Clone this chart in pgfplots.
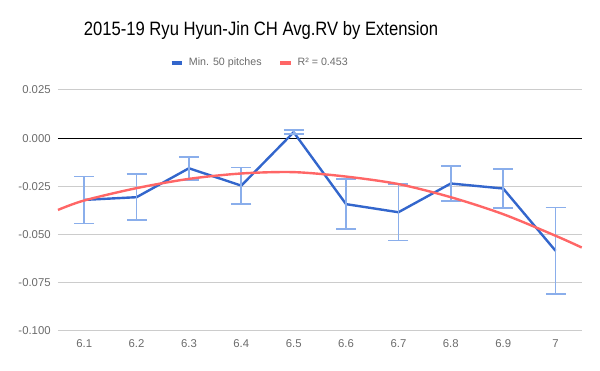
\documentclass[border=0pt]{standalone}
\usepackage{fontspec}
\setmainfont{Liberation Sans}
\newfontfamily\titlefont[FakeStretch=0.86]{Liberation Sans}
\usepackage{pgfplots}
\pgfplotsset{compat=1.18}
\definecolor{cblue}{HTML}{3366CC}
\definecolor{cred}{HTML}{FF6666}
\definecolor{cerr}{HTML}{8AAEEB}
\definecolor{cgrid}{HTML}{CCCCCC}
\definecolor{ctext}{HTML}{6B6B6B}
\begin{document}
\begin{tikzpicture}[x=0.75pt,y=0.75pt]
\useasboundingbox (-58*0.75pt,-40*0.75pt) rectangle (542*0.75pt,331*0.75pt);
\begin{axis}[
  at={(0,0)}, anchor=south west,
  scale only axis,
  width=392.8pt, height=180.75pt,
  xmin=6.05, xmax=7.05,
  ymin=-0.1, ymax=0.025,
  xtick={6.1,6.2,6.3,6.4,6.5,6.6,6.7,6.8,6.9,7},
  xticklabels={6.1,6.2,6.3,6.4,6.5,6.6,6.7,6.8,6.9,7},
  ytick={-0.1,-0.075,-0.05,-0.025,0,0.025},
  yticklabels={-0.100,-0.075,-0.050,-0.025,0.000,0.025},
  axis line style={draw=none},
  tick style={draw=none},
  ymajorgrids, grid style={cgrid, line width=0.75pt},
  ticklabel style={font=\fontsize{8.5}{10}\selectfont, text=ctext},
  /pgf/number format/assume math mode=true,
  yticklabel style={xshift=-2pt},
  xticklabel style={yshift=-3pt},
  clip=false,
  legend style={at={(261*0.75pt-58*0.75pt,268*0.75pt)}, anchor=center, draw=none, fill=none,
    legend columns=2, font=\fontsize{8}{10}\selectfont, text=ctext,
    /tikz/every even column/.append style={column sep=9pt},
    /tikz/every node/.append style={inner xsep=3.5pt}},
  legend cell align=left,
]
\addplot[black, line width=0.75pt, forget plot] coordinates {(6.05,0) (7.05,0)};
\addplot[cblue, line width=1.8pt, no markers, forget plot,
  error bars/.cd, y dir=both, y explicit,
  error bar style={cerr, line width=1.3pt},
  error mark options={cerr, rotate=90, mark size=7.5pt, line width=1.3pt},
] coordinates {
  (6.1,-0.0320) +- (0,0.0122)
  (6.2,-0.0306) +- (0,0.0119)
  (6.3,-0.0156) +- (0,0.0060)
  (6.4,-0.0246) +- (0,0.0094)
  (6.5,0.0031) +- (0,0.0011)
  (6.6,-0.0342) +- (0,0.0130)
  (6.7,-0.0384) +- (0,0.0147)
  (6.8,-0.0235) +- (0,0.0089)
  (6.9,-0.0261) +- (0,0.0100)
  (7.0,-0.0584) +- (0,0.0224)
};
\addplot[cred, line width=1.8pt, smooth, no markers, forget plot] coordinates {
  (6.05,-0.0372) (6.1,-0.0323) (6.2,-0.0259) (6.3,-0.0211) (6.4,-0.0183)
  (6.5,-0.0176) (6.6,-0.0199) (6.7,-0.0238) (6.8,-0.0306) (6.9,-0.0394)
  (7.0,-0.0506) (7.05,-0.0567)
};
\addlegendimage{legend image code/.code={\draw[cblue,line width=3pt] (0pt,0pt) -- (8pt,0pt);}}
\addlegendimage{legend image code/.code={\draw[cred,line width=3pt] (0pt,0pt) -- (8pt,0pt);}}
\legend{Min. 50 pitches, R² = 0.453}
\end{axis}
\node[font=\titlefont\fontsize{14.5}{17}\selectfont, text=black] at (203,300) {2015-19 Ryu Hyun-Jin CH Avg.RV by Extension};
\end{tikzpicture}
\end{document}
